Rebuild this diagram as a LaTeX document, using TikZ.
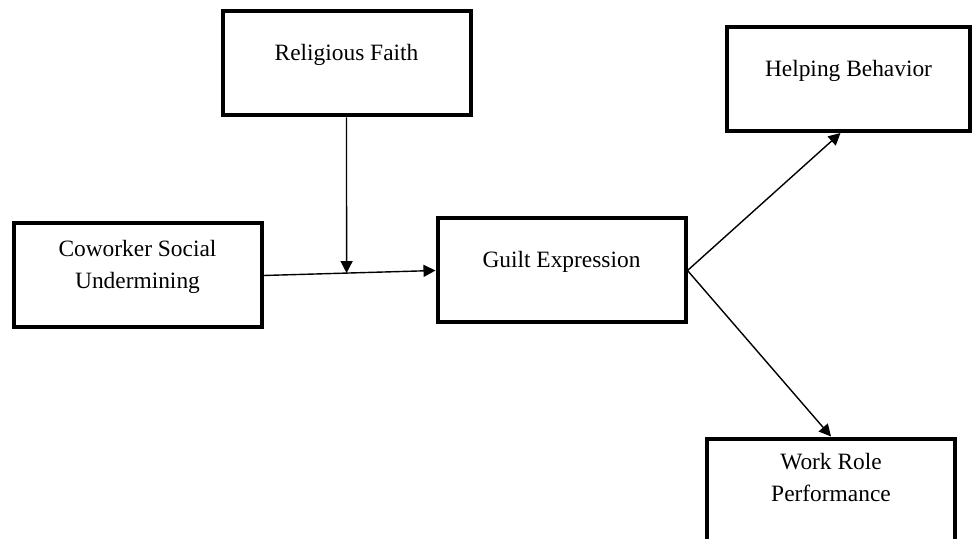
\documentclass[tikz,border=0pt]{standalone}
\usepackage{fontspec}
\setmainfont{Liberation Serif}
\usetikzlibrary{arrows.meta}

\begin{document}
\begin{tikzpicture}[x=0.5pt,y=-0.5pt,
    box/.style={draw, line width=2pt, minimum width=124pt, minimum height=52pt,
      align=center, text depth=11pt, font=\fontsize{11.7}{16}\selectfont},
    >={Triangle[length=6pt,width=6pt]}, line width=0.7pt]
  \useasboundingbox (0,0) rectangle (973,539);

  \node[box] (faith) at (346.5,63.5) {Religious Faith};
  \node[box, minimum width=121.5pt] (help) at (848.5,79) {Helping Behavior};
  \node[box] (cosu) at (137.5,275.5) {Coworker Social\\Undermining};
  \node[box] (guilt) at (561.5,270.5) {Guilt Expression};
  \node[box, minimum height=51pt, text depth=12pt] (work) at (831,489.5) {Work Role\\Performance};

  \draw[->] (cosu.east) -- coordinate[pos=0.483] (mod) (guilt.west);
  \draw[->] (faith.south) -- (mod);
  \draw[->] (guilt.east) -- ([xshift=-4pt]help.south);
  \draw[->] (guilt.east) -- (work.north);
\end{tikzpicture}
\end{document}
